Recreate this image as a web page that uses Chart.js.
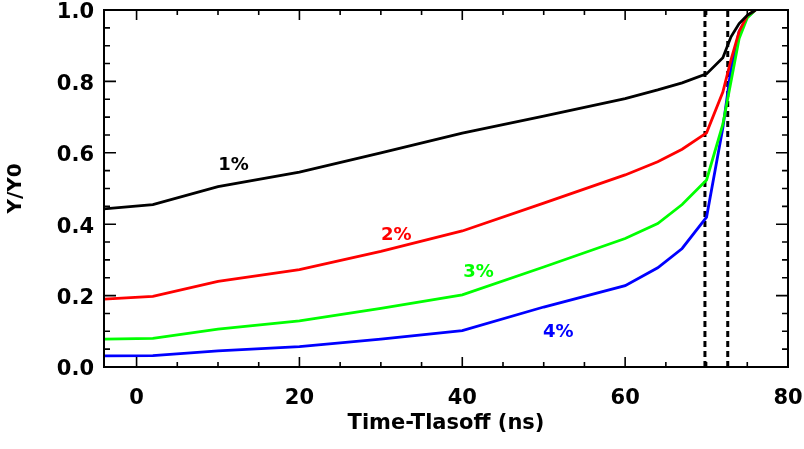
<!DOCTYPE html>
<html lang="en">
  <head>
    <meta charset="UTF-8" />
    <title>Y/Y0 vs Time-Tlasoff</title>
    <script src="https://cdn.jsdelivr.net/npm/chart.js@4.4.1/dist/chart.umd.min.js"></script>
    <style>
      html, body { margin: 0; padding: 0; background: #fff; }
      #wrap { width: 804px; height: 449px; }
    </style>
  </head>
  <body>
    <div id="wrap"><canvas id="chart" width="804" height="449"></canvas></div>
  </body>
  <script>
    // time after laser-off (ns)
    const times = [-4, 2, 10, 20, 30, 40, 50, 60, 64, 67, 70, 72, 73, 74, 75, 76];
    const y1pct = [0.443, 0.455, 0.505, 0.546, 0.600, 0.655, 0.703, 0.752, 0.776, 0.796, 0.821, 0.866, 0.925, 0.962, 0.985, 1.0];
    const y2pct = [0.190, 0.198, 0.240, 0.273, 0.324, 0.381, 0.459, 0.538, 0.575, 0.610, 0.656, 0.770, 0.860, 0.940, 0.985, 1.0];
    const y3pct = [0.078, 0.080, 0.106, 0.129, 0.164, 0.202, 0.280, 0.360, 0.402, 0.455, 0.524, 0.680, 0.800, 0.920, 0.978, 1.0];
    const y4pct = [0.031, 0.032, 0.045, 0.057, 0.078, 0.102, 0.168, 0.228, 0.278, 0.332, 0.420, 0.670, 0.835, 0.940, 0.980, 1.0];

    const markerTimes = [69.8, 72.6]; // dotted verticals

    const xTicks = [0, 20, 40, 60, 80];
    const yTicks = [0, 0.2, 0.4, 0.6, 0.8, 1.0];

    // curve labels (data coords)
    const labelTexts = ["1%", "2%", "3%", "4%"];
    const labelX = [11.9, 31.9, 42.0, 51.8];
    const labelY = [0.566, 0.370, 0.266, 0.098];
    const colors = ["#000000", "#ff0000", "#00ff00", "#0000ff"];

    const series = [y1pct, y2pct, y3pct, y4pct];
    const FONT = "'DejaVu Sans', Arial, sans-serif";

    const datasets = series.map((ys, i) => ({
      data: times.map((t, k) => ({x: t, y: ys[k]})),
      borderColor: colors[i],
      borderWidth: 2.8,
      pointRadius: 0,
      tension: 0,
      fill: false,
    }));
    markerTimes.forEach((t) => {
      datasets.push({
        data: [{x: t, y: 0}, {x: t, y: 1}],
        borderColor: "#000",
        borderWidth: 3,
        borderDash: [6, 4],
        pointRadius: 0,
        fill: false,
      });
    });

    // box, inward ticks, curve labels
    const frame = {
      id: "frame",
      afterDatasetsDraw(chart) {
        const {ctx, chartArea: a, scales: {x, y}} = chart;
        ctx.save();
        ctx.strokeStyle = "#000";
        ctx.lineWidth = 1.6;
        ctx.beginPath();
        for (let v = 0; v <= 80; v += 5) {
          const px = x.getPixelForValue(v);
          const len = v % 20 === 0 ? 10 : 5;
          ctx.moveTo(px, a.bottom); ctx.lineTo(px, a.bottom - len);
          ctx.moveTo(px, a.top); ctx.lineTo(px, a.top + len);
        }
        for (let k = 0; k <= 20; k++) {
          const py = y.getPixelForValue(k * 0.05);
          const len = k % 4 === 0 ? 12 : 6;
          ctx.moveTo(a.left, py); ctx.lineTo(a.left + len, py);
          ctx.moveTo(a.right, py); ctx.lineTo(a.right - len, py);
        }
        ctx.stroke();
        ctx.lineWidth = 2;
        ctx.strokeRect(a.left, a.top, a.right - a.left, a.bottom - a.top);

        ctx.font = "bold 18px " + FONT;
        ctx.textAlign = "center";
        ctx.textBaseline = "middle";
        labelTexts.forEach((txt, i) => {
          ctx.fillStyle = colors[i];
          ctx.fillText(txt, x.getPixelForValue(labelX[i]), y.getPixelForValue(labelY[i]));
        });
        ctx.restore();
      },
    };

    new Chart(document.getElementById("chart"), {
      type: "line",
      data: {datasets},
      options: {
        responsive: false,
        animation: false,
        layout: {padding: {top: 10, right: 16, left: 0, bottom: 0}},
        plugins: {legend: {display: false}, tooltip: {enabled: false}},
        scales: {
          x: {
            type: "linear",
            min: -4,
            max: 80,
            afterBuildTicks: (s) => { s.ticks = xTicks.map((v) => ({value: v})); },
            afterFit: (s) => { s.height = 82; s.paddingLeft = 0; s.paddingRight = 0; },
            grid: {display: false, drawTicks: false},
            border: {display: false},
            ticks: {
              color: "#000",
              padding: 19,
              maxRotation: 0,
              font: {family: FONT, size: 21, weight: "bold"},
            },
            title: {
              display: true,
              text: "Time-Tlasoff (ns)",
              color: "#000",
              padding: {top: 0, bottom: 13},
              font: {family: FONT, size: 21, weight: "bold", lineHeight: 1.2},
            },
          },
          y: {
            min: 0,
            max: 1,
            afterBuildTicks: (s) => { s.ticks = yTicks.map((v) => ({value: v})); },
            afterFit: (s) => { s.width = 104; s.paddingTop = 0; s.paddingBottom = 0; },
            grid: {display: false, drawTicks: false},
            border: {display: false},
            ticks: {
              color: "#000",
              padding: 10,
              labelOffset: 3,
              font: {family: FONT, size: 21, weight: "bold"},
              callback: (v) => Number(v).toFixed(1),
            },
            title: {
              display: true,
              text: "Y/Y0",
              color: "#000",
              padding: {top: 4, bottom: 0},
              font: {family: FONT, size: 20, weight: "bold", lineHeight: 1.2},
            },
          },
        },
      },
      plugins: [frame],
    });
  </script>
</html>
